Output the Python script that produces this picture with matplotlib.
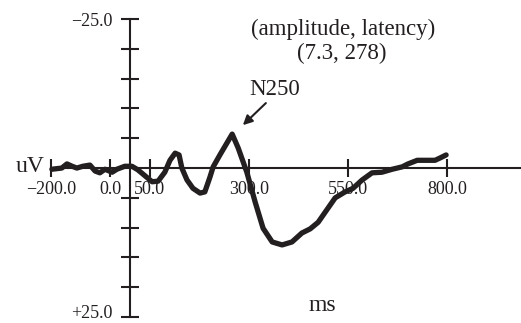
import matplotlib
matplotlib.use('Agg')
import matplotlib.pyplot as plt
import matplotlib.transforms as mtransforms

# --- data ---
time_ms = [-197, -172, -159, -146, -134, -119, -101, -88, -76, -63, -45, -33,
           -13, 5, 20, 38, 56, 71, 88, 101, 114, 124, 131, 144, 159, 177, 189,
           202, 210, 227, 258, 273, 295, 316, 336, 359, 384, 409, 434, 455,
           475, 497, 518, 543, 563, 586, 611, 636, 662, 687, 702, 725, 770,
           783, 798]
amp_uv = [0.2, 0.0, -0.7, -0.3, 0.0, -0.3, -0.5, 0.5, 0.8, 0.2, 0.7, 0.2,
          -0.3, -0.3, 0.3, 1.3, 2.3, 2.2, 0.7, -1.3, -2.5, -2.2, 0.0, 2.0,
          3.4, 4.2, 4.0, 1.5, -0.2, -2.2, -5.7, -3.4, 0.7, 5.7, 10.1, 12.4,
          12.9, 12.4, 10.9, 10.2, 9.1, 7.0, 5.0, 4.0, 3.4, 2.0, 0.8, 0.7,
          0.2, -0.2, -0.7, -1.3, -1.3, -1.7, -2.2]

x_ticks = [-200, -50, 50, 300, 550, 800]
x_labels = ['\u2212200.0', '0.0', '50.0', '300.0', '550.0', '800.0']
y_ticks = [-25, -20, -15, -10, -5, 5, 10, 15, 20, 25]
y_labels = ['\u221225.0', '', '', '', '', '', '', '', '', '+25.0']

ink = '#231f20'
plt.rcParams['font.family'] = ['Liberation Serif', 'DejaVu Serif']

fig = plt.figure(figsize=(5.21, 3.23), dpi=100)
ax = fig.add_axes([0, 0, 1, 1])
ax.set_facecolor('none')

ax.plot(time_ms, amp_uv, color=ink, lw=3.8, solid_capstyle='round',
        solid_joinstyle='round')

ax.set_xlim(-328, 987)
ax.set_ylim(26.0, -28.2)   # negative up

for s in ['top', 'right']:
    ax.spines[s].set_visible(False)
ax.spines['left'].set_position(('data', 0))
ax.spines['bottom'].set_position(('data', 0))
ax.spines['left'].set_bounds(-25, 25)
ax.spines['bottom'].set_bounds(-200, 985)
for s in ['left', 'bottom']:
    ax.spines[s].set_color(ink)
    ax.spines[s].set_linewidth(1.5)

ax.set_xticks(x_ticks)
ax.set_xticklabels(x_labels)
ax.set_yticks(y_ticks)
ax.set_yticklabels(y_labels)
ax.tick_params(axis='both', direction='inout', length=13, width=1.5,
               colors=ink, labelsize=13)
ax.tick_params(axis='x', pad=2.5)
ax.tick_params(axis='y', pad=6)

# nudge the bottom label up a little so it stays inside the figure
lab = ax.get_yticklabels()[-1]
lab.set_transform(lab.get_transform() +
                  mtransforms.ScaledTranslation(0, 4 / 72, fig.dpi_scale_trans))

ax.text(-215, -0.3, 'uV', ha='right', va='center', fontsize=17, color=ink)
ax.text(485, 23.0, 'ms', ha='center', va='center', fontsize=17, color=ink)
ax.text(538, -23.2, '(amplitude, latency)', ha='center', va='center',
        fontsize=16.5, color=ink)
ax.text(535, -19.3, '(7.3, 278)', ha='center', va='center',
        fontsize=16.5, color=ink)
ax.text(366, -13.1, 'N250', ha='center', va='center', fontsize=16.5,
        color=ink)
ax.annotate('', xy=(285, -7.2), xytext=(343, -10.9),
            arrowprops=dict(arrowstyle='-|>', color=ink, lw=1.5,
                            shrinkA=0, shrinkB=0, mutation_scale=14))

fig.savefig('out.png', dpi=100, facecolor='white')
